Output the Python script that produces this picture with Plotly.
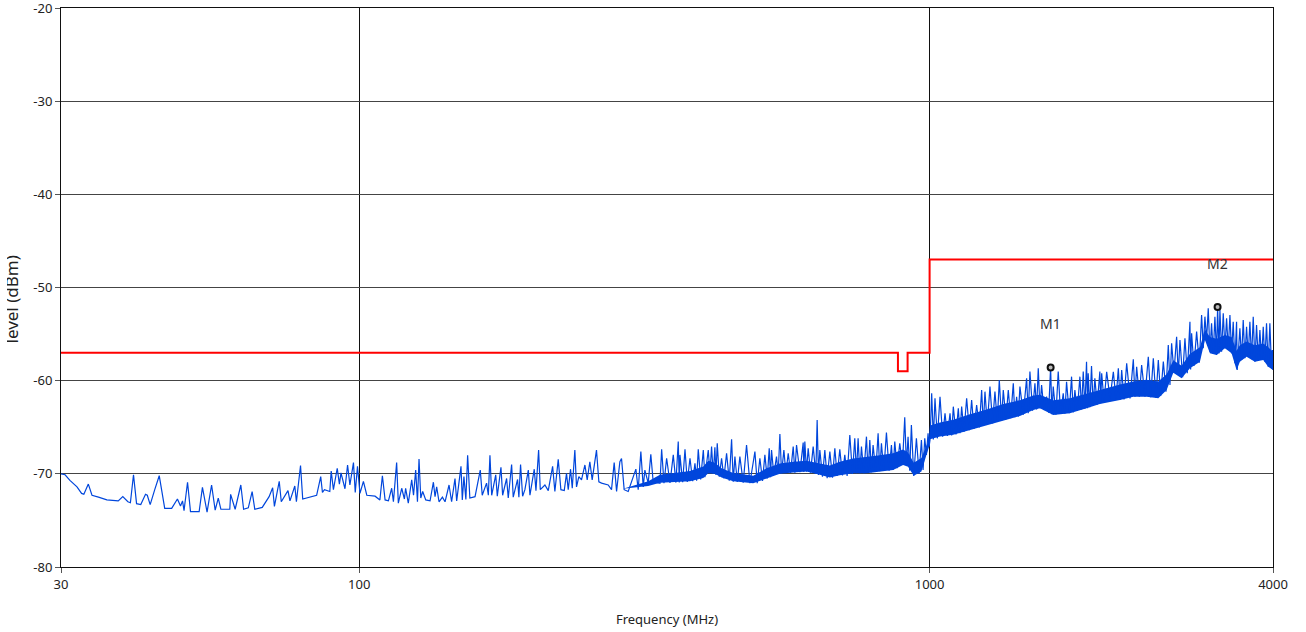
import numpy as np
import plotly.graph_objects as go

# ---- measured trace (frequency in MHz, level in dBm) ----
freq_a = [30, 30.5, 31.1, 31.5, 32.0, 32.6, 32.9, 33.5, 34.0, 34.9, 36.1, 37.8, 38.5, 39.3, 39.7,
          40.2, 40.7, 41.4, 42.2, 42.5, 43.0, 43.8, 44.6, 45.6, 46.9, 48.0, 48.6, 49.0, 49.3, 50.0,
          50.6, 52.4, 53.1, 54.1, 55.1, 55.9, 56.6, 57.2, 59.3, 59.5, 60.6, 62.0, 62.7, 63.9, 64.9,
          65.6, 67.0, 67.6, 69.5, 70.5, 71.0, 72.4, 73.0, 75.0, 75.6, 77.1, 77.6, 78.9, 79.6, 84.2,
          85.6, 86.2, 86.9, 88.8, 89.3, 90.1, 91.5, 92.3, 92.9, 94.4, 95.4, 96.3, 97.7, 98.4, 99.3]
level_a = [-70.0, -70.1, -70.7, -71.0, -71.4, -72.1, -72.2, -71.1, -72.3, -72.5, -72.8, -72.9, -72.45, -73.0, -73.1,
           -70.1, -73.2, -73.3, -72.2, -72.3, -73.3, -71.7, -70.2, -73.7, -73.7, -72.7, -73.45, -72.9, -73.95, -70.9,
           -74.05, -74.05, -71.45, -74.1, -71.2, -73.9, -72.6, -73.8, -73.8, -72.2, -73.8, -71.2, -73.8, -73.65, -71.9,
           -73.8, -73.6, -73.6, -72.45, -71.5, -73.5, -70.8, -73.0, -71.8, -72.9, -71.3, -73.0, -69.1, -72.7, -72.3,
           -70.3, -72.0, -71.7, -71.9, -69.7, -71.7, -69.4, -71.1, -69.9, -71.6, -69.05, -71.2, -68.8, -72.0, -69.2]

freq_b = [100.3, 101.7, 103.1, 106.6, 108.7, 109.8, 111.0, 112.5, 114.0, 114.8, 116.3, 117.1, 118.7, 120.0, 120.6,
          121.9, 123.6, 124.5, 125.6, 126.5, 127.3, 128.2, 129.2, 130.8, 133.1, 134.9, 135.8, 136.7, 138.0, 139.9,
          141.4, 143.7, 145.2, 147.2, 148.2, 150.8, 151.6, 152.6, 153.8, 154.9, 156.3, 159.6, 163.0, 164.3, 167.2,
          168.4, 169.5, 170.7, 173.5, 174.6, 177.2, 178.4, 181.3, 182.5, 185.0, 186.2, 189.5, 190.5, 191.8, 193.4,
          195.2, 197.9, 199.2, 202.7, 204.1, 206.3, 207.7, 211.6, 214.5, 218.3, 220.3, 223.3, 225.7, 228.8, 230.9,
          232.5, 234.7, 236.3, 238.8, 240.4, 242.7, 245.3, 248.7, 251.0, 253.7, 256.1, 257.8, 260.6, 263.1, 266.0,
          273.2, 276.9, 279.9, 282.6, 286.4, 288.3, 291.4, 296.2, 305.5, 308.4, 311.7, 314.7, 316.8, 321.1, 324.5,
          327.6]
level_b = [-72.1, -70.8, -72.3, -72.4, -72.8, -70.2, -72.8, -72.9, -71.55, -73.0, -68.8, -73.15, -71.55, -72.7, -71.55,
           -73.15, -70.65, -72.3, -69.6, -73.0, -68.4, -72.6, -71.9, -72.8, -72.9, -70.9, -72.45, -71.4, -73.0, -72.5,
           -73.0, -71.2, -73.0, -70.5, -72.9, -69.2, -72.8, -70.3, -72.75, -68.0, -72.6, -72.45, -69.6, -72.3, -71.0,
           -72.3, -68.0, -72.3, -70.1, -72.4, -69.3, -72.3, -70.5, -72.6, -69.0, -72.5, -70.6, -72.5, -69.0, -72.4,
           -71.7, -69.6, -72.3, -69.5, -71.8, -67.45, -71.7, -71.2, -71.8, -69.2, -71.9, -68.45, -71.7, -71.8, -69.95,
           -71.7, -69.5, -71.55, -67.45, -71.4, -70.3, -70.65, -69.05, -70.65, -68.7, -70.65, -69.4, -67.45, -70.85, -71.0,
           -71.2, -71.7, -68.8, -71.9, -68.7, -68.35, -71.7, -71.9, -69.5, -71.7, -67.6, -71.4, -69.6, -71.0, -67.9,
           -70.85]

freq_c = [336.7, 339.0, 342.2, 345.9, 350.6, 355.3, 359.1, 362.5, 364.0, 365.0, 369.0, 372.5, 376.0, 380.1, 384.2,
          387.8, 390.4, 393.0, 396.8, 401.1, 403.7, 409.2, 412.0, 414.7, 417.5, 420.3, 422.1, 424.3, 427.8, 431.8,
          435.9, 440.6, 445.4, 449.6, 452.6, 455.7, 460.0, 464.9, 471.2, 477.6, 484.1, 494.0, 498.6, 504.0, 509.4,
          514.3, 519.2, 523.4, 526.2, 528.3, 533.2, 539.0, 542.7, 546.4, 550.1, 555.3, 559.8, 565.1, 570.4, 576.6,
          580.5, 584.4, 592.3, 600.3, 601.9, 604.3, 608.3, 612.5, 618.3, 625.0, 631.7, 635.1, 638.5, 642.0, 648.9,
          655.1, 661.3, 668.5, 675.7, 682.1, 688.5, 695.9, 703.4, 710.1, 716.8, 724.6, 732.4, 739.3, 744.3, 749.3,
          754.4, 759.5, 766.7, 775.0, 780.2, 785.5, 790.7, 796.0, 804.7, 812.3, 817.8, 823.3, 831.1, 840.1, 849.2,
          857.2, 863.0, 868.8, 877.1, 886.5, 896.1, 904.5, 910.6, 916.7, 922.9, 929.1, 937.9, 948.1, 958.4, 967.5,
          974.0, 980.6, 987.2, 993.8, 997.8]
level_c = [-71.01, -67.37, -71.01, -68.33, -70.98, -67.97, -70.94, -66.54, -70.94, -67.97, -70.91, -67.37, -70.87, -68.33, -70.8,
           -68.87, -70.73, -67.37, -70.59, -67.44, -70.37, -67.44, -69.94, -67.08, -70.01, -67.15, -70.12, -66.72, -70.3, -68.33,
           -70.48, -67.79, -70.73, -66.29, -70.84, -68.15, -70.87, -68.15, -70.94, -66.9, -71.01, -67.62, -71.01, -68.33, -70.76,
           -67.97, -70.51, -67.26, -70.37, -67.44, -70.12, -68.15, -70.01, -65.72, -69.94, -67.44, -69.94, -67.79, -69.87, -67.08,
           -69.87, -66.9, -69.83, -66.65, -69.8, -66.54, -69.76, -67.26, -69.87, -67.08, -70.01, -64.22, -70.12, -67.44, -70.3,
           -67.44, -70.48, -67.62, -70.41, -67.26, -70.23, -67.37, -70.16, -67.97, -70.23, -65.83, -70.01, -66.18, -69.94, -66.18,
           -69.94, -67.08, -69.94, -66.01, -69.91, -66.36, -69.83, -66.9, -69.76, -65.65, -69.73, -66.72, -69.69, -65.58, -69.66,
           -66.9, -69.58, -66.54, -69.4, -66.72, -69.05, -63.93, -69.05, -66.01, -69.66, -64.75, -70.23, -66.18, -70.01, -66.36,
           -69.58, -66.18, -67.97, -65.65, -67.08]

freq_d = [1001.6, 1008.4, 1015.2, 1022.0, 1031.7, 1042.9, 1054.1, 1064.2, 1074.5, 1085.9, 1093.1, 1100.4, 1112.4, 1122.9, 1130.4,
          1138.1, 1148.8, 1161.3, 1173.8, 1184.9, 1196.1, 1209.1, 1222.2, 1233.8, 1242.1, 1250.4, 1262.2, 1275.9, 1289.6, 1301.8,
          1314.2, 1324.9, 1337.4, 1346.4, 1361.0, 1373.9, 1386.9, 1401.9, 1411.4, 1420.9, 1430.4, 1440.0, 1459.6, 1479.3, 1489.2,
          1499.3, 1515.6, 1529.9, 1540.2, 1550.6, 1561.1, 1571.6, 1586.6, 1603.7, 1616.7, 1629.8, 1638.4, 1647.2, 1665.2, 1680.8,
          1696.8, 1715.1, 1726.6, 1738.3, 1757.1, 1773.7, 1785.7, 1797.7, 1814.9, 1834.5, 1846.8, 1859.4, 1871.7, 1884.2, 1891.9,
          1897.0, 1909.8, 1922.6, 1935.6, 1948.6, 1967.1, 1988.4]
level_d = [-66.37, -61.36, -66.3, -61.89, -66.19, -61.72, -66.01, -63.5, -65.94, -63.5, -65.87, -62.79, -65.76, -62.97, -65.65,
           -62.79, -65.51, -61.89, -65.33, -62.07, -65.19, -62.61, -65.01, -61.0, -64.86, -61.18, -64.72, -60.64, -64.58, -61.18,
           -64.4, -59.93, -64.29, -61.0, -64.15, -61.0, -64.04, -60.28, -63.93, -61.72, -63.86, -60.64, -63.65, -59.75, -63.5,
           -59.03, -63.22, -60.28, -63.08, -58.67, -62.97, -60.46, -63.15, -61.72, -63.43, -58.57, -63.61, -60.64, -63.65, -59.03,
           -63.58, -61.36, -63.54, -60.11, -63.5, -59.57, -63.4, -61.0, -63.25, -59.57, -63.08, -59.03, -63.0, -57.96, -62.97,
           -59.21, -62.86, -58.42, -62.72, -59.75, -62.57, -59.03]

freq_e = [1995.0, 2003.1, 2022.0, 2043.9, 2071.5, 2099.6, 2122.3, 2142.4, 2156.9, 2171.5, 2192.1, 2215.8, 2245.8, 2275.9, 2291.4,
          2306.9, 2331.7, 2353.7, 2385.6, 2417.9, 2440.9, 2467.3, 2494.0, 2517.6, 2541.5, 2569.1, 2596.6, 2621.1, 2638.8, 2656.5,
          2681.8, 2710.7, 2728.9, 2747.4, 2777.1, 2803.3, 2829.9, 2860.6, 2868.4, 2879.9, 2907.2, 2938.7, 2970.2, 2998.3, 3018.5,
          3038.8, 3059.3, 3079.8, 3100.7, 3121.5, 3142.7, 3163.8, 3185.3, 3198.4, 3215.9, 3228.4, 3250.2, 3272.2, 3294.3, 3316.6,
          3338.9, 3361.6, 3383.9, 3406.6, 3429.8, 3452.9, 3462.1, 3499.6, 3523.1, 3546.9, 3570.8, 3595.0, 3619.2, 3643.7, 3668.2,
          3693.1, 3718.0, 3743.2, 3768.4, 3793.9, 3819.5, 3845.4, 3870.9, 3896.8, 3923.3, 3949.8, 3976.3, 3992.3, 4000.0]
level_e = [-62.43, -59.21, -62.18, -59.04, -61.9, -59.04, -62.01, -58.68, -62.08, -58.86, -62.01, -58.14, -61.9, -57.71, -61.72,
           -58.5, -61.72, -58.32, -61.72, -57.43, -61.79, -57.6, -61.86, -57.78, -61.65, -57.96, -61.18, -56.17, -60.47, -55.99,
           -59.14, -55.28, -59.39, -55.64, -59.64, -55.46, -59.21, -53.67, -58.79, -54.92, -58.43, -54.74, -58.07, -52.95, -56.53,
           -53.13, -55.64, -52.24, -56.89, -53.85, -57.14, -53.13, -57.25, -52.13, -57.07, -52.42, -56.89, -52.77, -56.53, -53.31,
           -56.71, -52.95, -57.07, -53.67, -58.14, -53.67, -58.86, -54.38, -57.78, -53.49, -57.6, -54.21, -57.43, -53.67, -57.71,
           -53.13, -57.96, -54.03, -57.86, -54.56, -57.78, -54.21, -57.96, -53.85, -58.5, -53.85, -58.68, -56.71, -58.86]

# ---- dense-band body (lower / upper edge of the solid part of the trace) ----
band_freq = [290.0, 321.1, 336.7, 355.3, 380.1, 401.1, 409.2, 420.3, 431.8, 452.6, 477.6, 490.6, 517.8,
             546.4, 576.6, 608.3, 642.0, 668.5, 695.9, 734.4, 775.0, 817.8, 863.0, 898.5, 916.7, 937.9, 967.5, 987.2,
             997.8, 1001.6, 1042.9, 1100.4, 1177.0, 1258.8, 1346.4, 1440.0, 1519.6, 1561.1, 1647.2, 1761.8, 1884.2, 1988.4,
             2156.9, 2275.9, 2401.8, 2517.6, 2603.4, 2674.5, 2765.9, 2860.6, 2978.0, 3038.8, 3100.7, 3185.3, 3294.3, 3383.9,
             3452.9, 3499.6, 3595.0, 3718.0, 3845.4, 3923.3, 4000.0]
band_low = [-71.6, -71.3, -70.95, -70.9, -70.8, -70.45, -69.94, -70.0, -70.4, -70.8, -70.9, -71.0, -70.5,
            -70.0, -69.87, -69.76, -70.1, -70.4, -70.15, -69.94, -69.94, -69.73, -69.58, -69.05, -69.23, -70.2, -69.76, -67.97,
            -67.08, -66.3, -66.0, -65.8, -65.29, -64.76, -64.22, -63.79, -63.15, -62.97, -63.68, -63.5, -62.97, -62.5,
            -62.08, -61.72, -61.72, -61.9, -61.0, -59.14, -59.75, -58.68, -57.96, -55.64, -57.07, -57.25, -56.53, -57.07,
            -58.86, -57.96, -57.43, -57.96, -57.78, -58.5, -58.86]
band_high = [-71.6, -70.8, -70.1, -69.95, -69.7, -69.2, -68.6, -68.8, -69.4, -69.9, -70.1, -70.2, -69.4,
             -68.9, -68.7, -68.6, -68.9, -69.1, -68.7, -68.35, -68.2, -68.0, -67.8, -67.4, -67.7, -68.8, -68.3, -67.0,
             -66.3, -64.8, -64.5, -64.2, -63.6, -63.1, -62.5, -62.1, -61.6, -61.5, -62.1, -61.9, -61.4, -61.0,
             -60.4, -60.1, -59.9, -60.1, -59.3, -57.8, -58.4, -57.1, -56.4, -54.5, -55.3, -55.5, -55.1, -55.3,
             -56.8, -56.2, -55.8, -56.2, -56.0, -56.4, -56.9]

# ---- limit line ----
limit_freq = [30, 880, 880, 915, 915, 1000, 1000, 4000]
limit_level = [-57, -57, -59, -59, -57, -57, -47, -47]

# ---- markers ----
marker_names = ["M1", "M2"]
marker_freq = [1630, 3198]
marker_level = [-58.6, -52.1]

x_ticks = [30, 100, 1000, 4000]
y_ticks = [-80, -70, -60, -50, -40, -30, -20]

trace_freq = freq_a + freq_b + freq_c + freq_d + freq_e
trace_level = level_a + level_b + level_c + level_d + level_e

FONT = "Noto Sans"
BLUE = "#0046dc"

fig = go.Figure()
fig.add_trace(go.Scatter(x=band_freq + band_freq[::-1], y=band_low + band_high[::-1],
                         mode="lines", fill="toself", fillcolor=BLUE,
                         line=dict(color=BLUE, width=0), hoverinfo="skip"))
fig.add_trace(go.Scatter(x=trace_freq, y=trace_level, mode="lines",
                         line=dict(color=BLUE, width=1.2), hoverinfo="skip"))
fig.add_trace(go.Scatter(x=limit_freq, y=limit_level, mode="lines",
                         line=dict(color="#ff0000", width=2), hoverinfo="skip"))
fig.add_trace(go.Scatter(x=marker_freq, y=marker_level, mode="markers",
                         marker=dict(size=6, color="#bbbbbb", line=dict(color="#111111", width=2)),
                         hoverinfo="skip"))

annotations = []
for name, f, lv in zip(marker_names, marker_freq, marker_level):
    annotations.append(dict(x=np.log10(f), y=lv, xref="x", yref="y", text=name, showarrow=False,
                            yshift=44, font=dict(family=FONT, size=14, color="#333333")))
# y-axis title (clipped at the left edge as in the original)
annotations.append(dict(x=0, y=0.5, xref="paper", yref="paper", text="level (dBm)", textangle=-90,
                        showarrow=False, xanchor="center", yanchor="middle", xshift=-50, yshift=-12,
                        font=dict(family=FONT, size=17, color="#222222")))
annotations.append(dict(x=0, y=0.5, xref="paper", yref="paper", text="&nbsp;", showarrow=False,
                        xanchor="left", yanchor="middle", xshift=-62, yshift=-12, width=8, height=160,
                        bgcolor="#ffffff", borderpad=0, borderwidth=0,
                        font=dict(size=10, color="#ffffff")))

fig.update_layout(
    width=1306, height=632,
    margin=dict(l=61, r=33, t=8, b=65, autoexpand=False),
    paper_bgcolor="white", plot_bgcolor="white",
    showlegend=False,
    font=dict(family=FONT, size=13, color="#222222"),
    annotations=annotations,
    xaxis=dict(type="log", range=[np.log10(30), np.log10(4000)],
               tickvals=x_ticks, ticktext=[str(v) for v in x_ticks],
               showgrid=True, gridcolor="#111111", gridwidth=1,
               showline=True, linecolor="#111111", linewidth=1, mirror=True,
               ticks="outside", ticklen=5, tickcolor="#555555", zeroline=False,
               ticklabeloverflow="allow", automargin=False,
               title=dict(text="Frequency (MHz)", font=dict(family=FONT, size=13), standoff=23)),
    yaxis=dict(range=[-80, -20], tickvals=y_ticks, ticktext=[str(v) for v in y_ticks],
               showgrid=True, gridcolor="#444444", gridwidth=1,
               showline=True, linecolor="#111111", linewidth=1, mirror=True,
               ticks="outside", ticklen=5, tickcolor="#555555", zeroline=False,
               ticklabeloverflow="allow", automargin=False),
)

fig.write_html("out.html")
